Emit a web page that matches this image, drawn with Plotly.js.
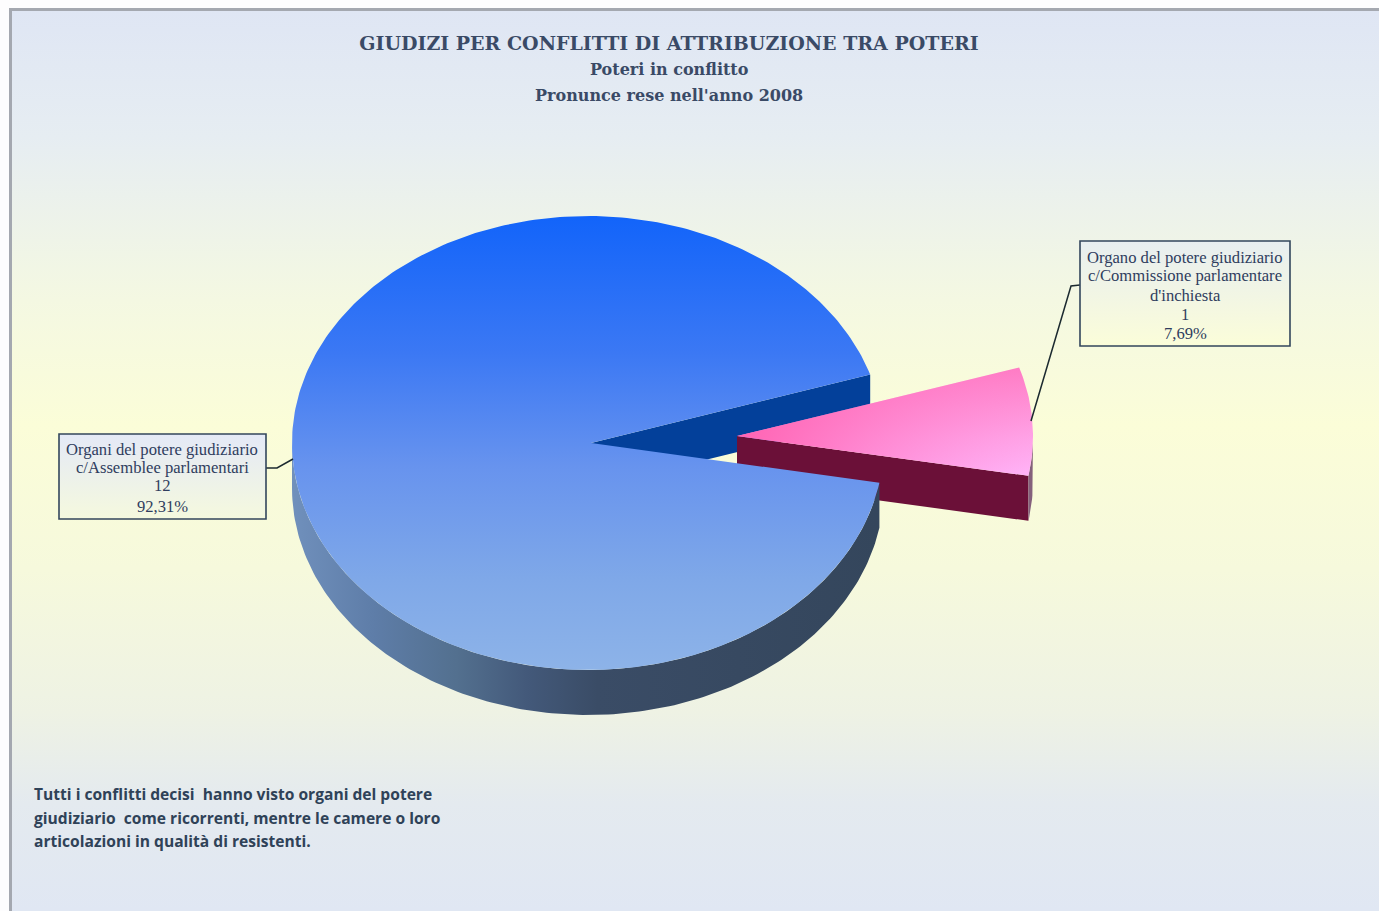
<!DOCTYPE html>
<html lang="it">
<head>
<meta charset="utf-8">
<title>Giudizi per conflitti di attribuzione tra poteri</title>
<script src="https://cdn.plot.ly/plotly-3.0.1.min.js"></script>
<style>
  html, body { margin: 0; padding: 0; background: #fdfdfe; overflow: hidden; }
  #frame {
    position: absolute; left: 9px; top: 8px; width: 1370px; height: 903px;
    box-sizing: border-box;
    border-left: 3px solid #a4a8b0; border-top: 3px solid #a4a8b0;
    background: linear-gradient(to bottom,
      #dfe6f4 0%, #e6edf2 14%, #f4f8e2 32%, #fbfdd8 46%, #f6f9dc 62%,
      #eef2e4 78%, #e4eaef 88%, #e0e7f3 100%);
  }
  #chart { position: absolute; left: 0; top: 0; width: 1379px; height: 911px; }
</style>
</head>
<body>
<div id="frame"></div>
<div id="chart"></div>
<script>
// Conflicts decided in 2008, by the powers involved
const categories = [
  ['Organi del potere giudiziario', 'c/Assemblee parlamentari'],
  ['Organo del potere giudiziario', 'c/Commissione parlamentare', "d'inchiesta"]
];
const counts = [12, 1];
const shares = ['92,31%', '7,69%'];

const titleLines = [
  'GIUDIZI PER CONFLITTI DI ATTRIBUZIONE TRA POTERI',
  'Poteri in conflitto',
  "Pronunce rese nell'anno 2008"
];
const noteLines = [
  'Tutti i conflitti decisi  hanno visto organi del potere',
  'giudiziario  come ricorrenti, mentre le camere o loro',
  'articolazioni in qualità di resistenti.'
];

// Tilted-disc geometry, in axis units (the axes span the page 1:1)
const disc = { cx: 588, cy: 443, apexX: 591, apexY: 443, rx: 296, ry: 227, depth: 45 };
const detached = { cx: 737, cy: 436, apexX: 737, apexY: 436, rx: 296, ry: 227, depth: 45 };
const firstSliceStart = -10.1;   // degrees, counter-clockwise from the +x direction

const total = counts.reduce((a, b) => a + b, 0);
const smallSpan = counts[1] / total * 360;
const smallStart = firstSliceStart;
const smallEnd = smallStart + smallSpan;
const largeStart = smallEnd;
const largeEnd = smallStart + 360;

const rim = (c, deg, drop = 0) => {
  const t = deg * Math.PI / 180;
  return [c.cx + c.rx * Math.cos(t), c.cy - c.ry * Math.sin(t) + drop];
};
const arc = (c, from, to, drop = 0) => {
  const pts = [];
  const n = Math.max(2, Math.ceil(Math.abs(to - from)));
  for (let i = 0; i <= n; i++) pts.push(rim(c, from + (to - from) * i / n, drop));
  return pts;
};
const apex = (c, drop = 0) => [c.apexX, c.apexY + drop];

function region(name, pts, paint) {
  const closed = pts.concat([pts[0]]);
  const trace = {
    type: 'scatter', mode: 'lines', name,
    x: closed.map(p => p[0]), y: closed.map(p => p[1]),
    line: { width: 0 }, fill: 'toself', hoverinfo: 'skip', showlegend: false
  };
  if (Array.isArray(paint)) {
    trace.fillgradient = { type: paint[0], colorscale: paint[1] };
  } else {
    trace.fillcolor = paint;
  }
  return trace;
}

// Vertical ramps run from the bottom of the region (0) to its top (1)
const traces = [];
const main = disc, off = detached;

// Cut wall of the large slice, seen through the gap
traces.push(region('Parete interna', [
  apex(main), rim(main, largeStart), rim(main, largeStart, main.depth), apex(main, main.depth)
], '#03409a'));

// Detached small slice: walls, then top face
traces.push(region('Fetta staccata, parete', [
  apex(off), rim(off, smallStart), rim(off, smallStart, off.depth), apex(off, off.depth)
], '#6b1038'));
traces.push(region('Fetta staccata, bordo',
  arc(off, smallStart, 0).concat(arc(off, 0, smallStart, off.depth)), '#84607c'));
const smallFace = [apex(off)].concat(arc(off, smallStart, smallEnd));
traces.push(region('Fetta staccata', smallFace, ['vertical', [
  [0, '#ffb4f8'], [0.35, '#ffa2e6'], [1, '#ff7cc4']
]]));
traces.push(region('Fetta staccata, ombra', smallFace, ['horizontal', [
  [0, 'rgba(255,96,176,0.95)'], [0.45, 'rgba(255,100,180,0.45)'], [1, 'rgba(255,120,200,0)']
]]));

// Large slice: outer wall, then top face over everything
traces.push(region('Fetta grande, bordo',
  arc(main, 180, largeEnd).concat(arc(main, largeEnd, 180, main.depth)), ['horizontal', [
    [0, '#7090bc'], [0.14, '#5e7da8'], [0.28, '#53708f'], [0.4, '#43597a'],
    [0.52, '#3a4c66'], [1, '#34465c']
  ]]));
traces.push(region('Fetta grande',
  [apex(main)].concat(arc(main, largeStart, largeEnd)), ['vertical', [
    [0, '#8db3e8'], [0.2, '#7fa8e8'], [0.45, '#6793ee'], [0.7, '#3b78f4'], [1, '#1264fa']
  ]]));

// Label plates: soft vertical wash behind each boxed label
const plates = [
  { x0: 59, x1: 266, y0: 434, y1: 519, top: '#e4e9f7', bottom: '#f5f9de' },
  { x0: 1080, x1: 1290, y0: 241, y1: 346, top: '#e8eef0', bottom: '#fbfdd9' }
];
plates.forEach(p => traces.push(region('Etichetta',
  [[p.x0, p.y0], [p.x1, p.y0], [p.x1, p.y1], [p.x0, p.y1]],
  ['vertical', [[0, p.bottom], [1, p.top]]])));

const leaderPaths = [
  'M 266 468 L 277 468 L 293 459',
  'M 1080 285 L 1071 286 L 1031 421'
];
const plateShapes = plates.map(p => ({
  type: 'rect', xref: 'x', yref: 'y', x0: p.x0, x1: p.x1, y0: p.y0, y1: p.y1,
  line: { color: '#33465c', width: 1.6 }, fillcolor: 'rgba(0,0,0,0)'
}));
const leaders = leaderPaths.map(path => ({
  type: 'path', xref: 'x', yref: 'y', path, line: { color: '#1c2a30', width: 1.5 }
}));

const inkTitle = '#3a4a66', inkLabel = '#2f3d5e', inkNote = '#2f4258';
const txt = (x, y, text, font, anchor = 'center') => ({
  xref: 'x', yref: 'y', x, y, text, showarrow: false,
  xanchor: anchor, yanchor: 'middle', align: anchor === 'left' ? 'left' : 'center', font
});
const labelFont = { family: 'Liberation Serif, serif', size: 16.6, color: inkLabel };
const headFont = { family: 'DejaVu Serif, serif', size: 16, color: inkTitle };
const noteFont = { family: 'Open Sans, sans-serif', size: 15.6, color: inkNote };

// Each boxed label is stacked line by line: category text, count, share
const labelStack = (lines, x, ys) => lines.map((line, i) => txt(x, ys[i], line, labelFont));
const leftLines = categories[0].concat([String(counts[0]), shares[0]]);
const rightLines = categories[1].concat([String(counts[1]), shares[1]]);

const annotations = [
  txt(669, 69, '<b>' + titleLines[1] + '</b>', headFont),
  txt(669, 95, '<b>' + titleLines[2] + '</b>', headFont),
  ...labelStack(leftLines, 162, [449, 467, 485, 506]),
  ...labelStack(rightLines, 1185, [257, 275, 295, 314, 333]),
  txt(32, 794, '<b>' + noteLines[0] + '</b>', noteFont, 'left'),
  txt(32, 818, '<b>' + noteLines[1] + '</b>', noteFont, 'left'),
  txt(32, 841, '<b>' + noteLines[2] + '</b>', noteFont, 'left')
];

const hiddenAxis = (range) => ({
  range, visible: false, fixedrange: true, showgrid: false, zeroline: false
});

Plotly.newPlot('chart', traces, {
  width: 1379, height: 911,
  margin: { l: 0, r: 0, t: 0, b: 0 },
  paper_bgcolor: 'rgba(0,0,0,0)', plot_bgcolor: 'rgba(0,0,0,0)',
  xaxis: hiddenAxis([0, 1379]),
  yaxis: hiddenAxis([911, 0]),
  showlegend: false,
  hovermode: false,
  title: {
    text: '<b>' + titleLines[0] + '</b>',
    x: 669 / 1379, xanchor: 'center', y: 1 - 43 / 911, yanchor: 'middle',
    font: { family: 'DejaVu Serif, serif', size: 19, color: inkTitle }
  },
  shapes: leaders.concat(plateShapes),
  annotations
}, { displayModeBar: false, staticPlot: true });
</script>
</body>
</html>
